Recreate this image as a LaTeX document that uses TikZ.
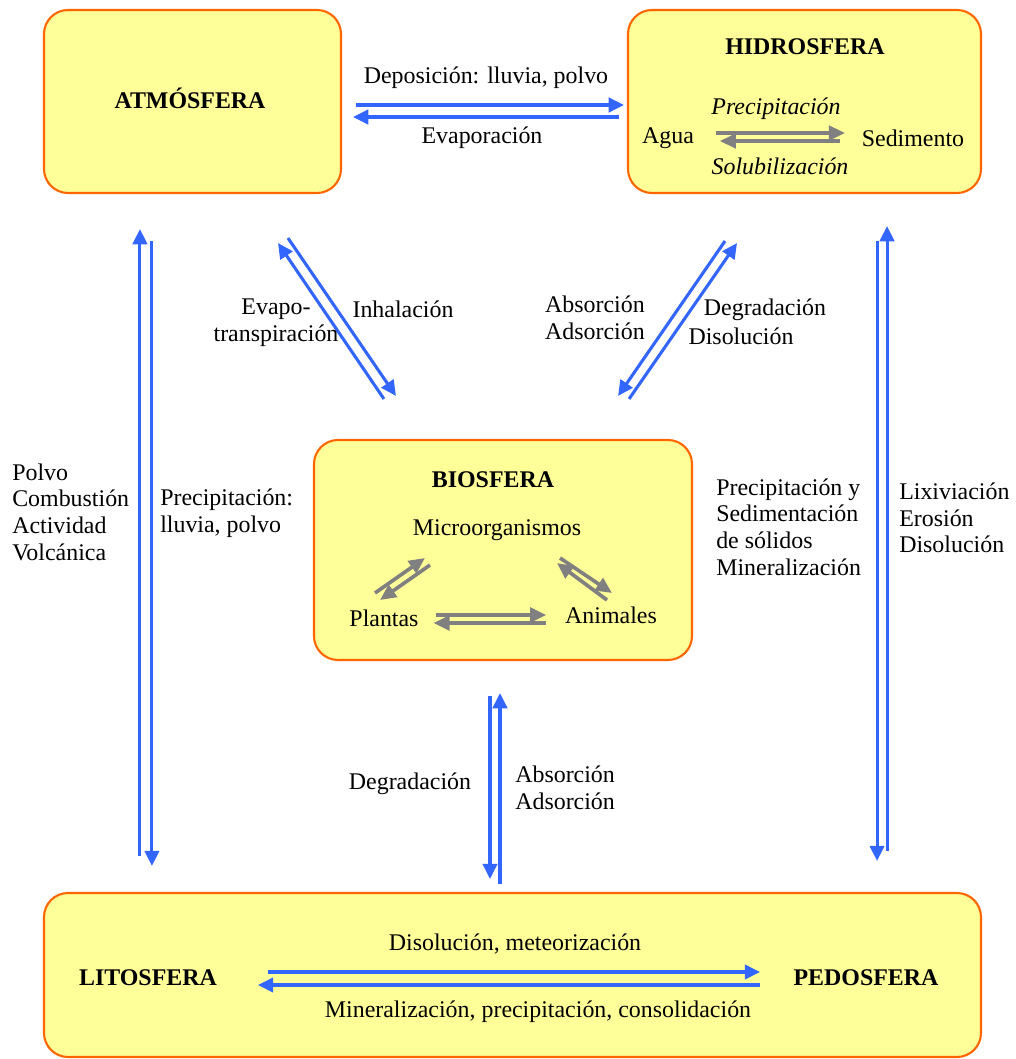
\documentclass[tikz,border=0pt]{standalone}
\usepackage{fontspec}
\setmainfont{Liberation Serif}
\usetikzlibrary{arrows.meta,fit}
\definecolor{sphfill}{HTML}{FFFF99}
\definecolor{sphline}{HTML}{FF6600}
\definecolor{flowblue}{HTML}{3366FF}
\definecolor{flowgray}{HTML}{808080}
\newcommand\spherefont{\fontsize{17}{19}\selectfont}
\begin{document}
\begin{tikzpicture}[x=0.025cm,y=-0.025cm,font=\spherefont,
  sphere/.style={draw=sphline,fill=sphfill,line width=1.5pt,rounded corners=0.6cm,inner sep=0pt},
  head/.style={font=\spherefont\bfseries},
  ital/.style={font=\spherefont\itshape},
  lbl/.style={align=left,inner sep=0pt},
  bflow/.style={draw=flowblue,line width=2.2pt,-{Triangle[length=0.38cm,width=0.36cm]}},
  gflow/.style={draw=flowgray,line width=2.6pt,-{Triangle[length=0.4cm,width=0.36cm]}}]
\useasboundingbox (0,0) rectangle (1015,1059);
% the five spheres
\node[sphere,fit={(44,10)(341,193)}] (atm) {};
\node[sphere,fit={(628,10)(981,193)}] (hid) {};
\node[sphere,fit={(314,440)(692,660)}] (bio) {};
\node[sphere,fit={(44,893)(981,1057)}] (lit) {};
\node[head] (atmt) at (190,98) {ATMÓSFERA};
\node[head] (hidt) at (805,47) {HIDROSFERA};
\node[head] (biot) at (493,480) {BIOSFERA};
\node[head] (litt) at (148,978) {LITOSFERA};
\node[head] (pedt) at (866,978) {PEDOSFERA};
% inside hidrosfera and biosfera
\node (agua) at (668,138) {Agua};
\node (sed) at (913,138) {Sedimento};
\node[ital] at (776,109) {Precipitación};
\node[ital] at (780,166) {Solubilización};
\draw[gflow] ([shift={(17,-5)}]agua.east) -- ([shift={(-12,-5)}]sed.west);
\draw[gflow] ([shift={(-17,3)}]sed.west) -- ([shift={(21,3)}]agua.east);
\node (micro) at (497,530) {Microorganismos};
\node (plantas) at (384,618) {Plantas};
\node (animales) at (611,615) {Animales};
\draw[gflow] ([shift={(12,-3)}]plantas.east) -- ([shift={(-14,0)}]animales.west);
\draw[gflow] ([shift={(-14,8)}]animales.west) -- ([shift={(10,5)}]plantas.east);
\draw[gflow] ([shift={(-128,43)}]bio.center) -- ([shift={(-78,8)}]bio.center);
\draw[gflow] ([shift={(-73,15)}]bio.center) -- ([shift={(-123,50)}]bio.center);
\draw[gflow] ([shift={(104,50)}]bio.center) -- ([shift={(54,13)}]bio.center);
\draw[gflow] ([shift={(57,8)}]bio.center) -- ([shift={(109,43)}]bio.center);
% flows between spheres
\draw[bflow] ([shift={(14,3.5)}]atm.east) -- ([shift={(-3,3.5)}]hid.west);
\draw[bflow] ([shift={(-8,15.5)}]hid.west) -- ([shift={(11,15.5)}]atm.east);
\node at (486,78) {Deposición: lluvia, polvo};
\node at (482,138) {Evaporación};
\draw[bflow] ([shift={(97,-36)}]lit.north west) -- ([shift={(97,35)}]atm.south west);
\draw[bflow] ([shift={(109,47)}]atm.south west) -- ([shift={(109,-26)}]lit.north west);
\node[lbl,anchor=west] at (12,512) {Polvo\\Combustión\\Actividad\\Volcánica};
\node[lbl,anchor=west] at (160,513) {Precipitación:\\lluvia, polvo};
\draw[bflow] ([shift={(-105,47)}]hid.south east) -- ([shift={(-105,-31)}]lit.north east);
\draw[bflow] ([shift={(-95,-41)}]lit.north east) -- ([shift={(-95,32)}]hid.south east);
\node[lbl,anchor=west] at (716,527) {Precipitación y\\Sedimentación\\de sólidos\\Mineralización};
\node[lbl,anchor=west] at (899,518) {Lixiviación\\Erosión\\Disolución};
\draw[bflow] ([shift={(71,-40)}]bio.north west) -- ([shift={(85.5,49)}]atm.south);
\draw[bflow] ([shift={(95.5,44)}]atm.south) -- ([shift={(83,-43)}]bio.north west);
\node[align=center] at (276,323) {Evapo-\\transpiración};
\node at (403,309) {Inhalación};
\draw[bflow] ([shift={(-79.5,47)}]hid.south) -- ([shift={(-75,-43)}]bio.north east);
\draw[bflow] ([shift={(-64,-40)}]bio.north east) -- ([shift={(-67.5,49)}]hid.south);
\node[align=center] at (595,318) {Absorción\\Adsorción};
\node at (765,310) {Degradación};
\node at (741,336) {Disolución};
\draw[bflow] ([shift={(-13,35)}]bio.south) -- ([shift={(-22.5,-13)}]lit.north);
\draw[bflow] ([shift={(-12.5,-8)}]lit.north) -- ([shift={(-3,32)}]bio.south);
\node at (410,784) {Degradación};
\node[lbl,anchor=west] at (515,788) {Absorción\\Adsorción};
\draw[bflow] ([shift={(-244.5,-3)}]lit.center) -- ([shift={(247.5,-3)}]lit.center);
\draw[bflow] ([shift={(247.5,10)}]lit.center) -- ([shift={(-254.5,10)}]lit.center);
\node at (515,944) {Disolución, meteorización};
\node at (538,1012) {Mineralización, precipitación, consolidación};
\end{tikzpicture}
\end{document}
